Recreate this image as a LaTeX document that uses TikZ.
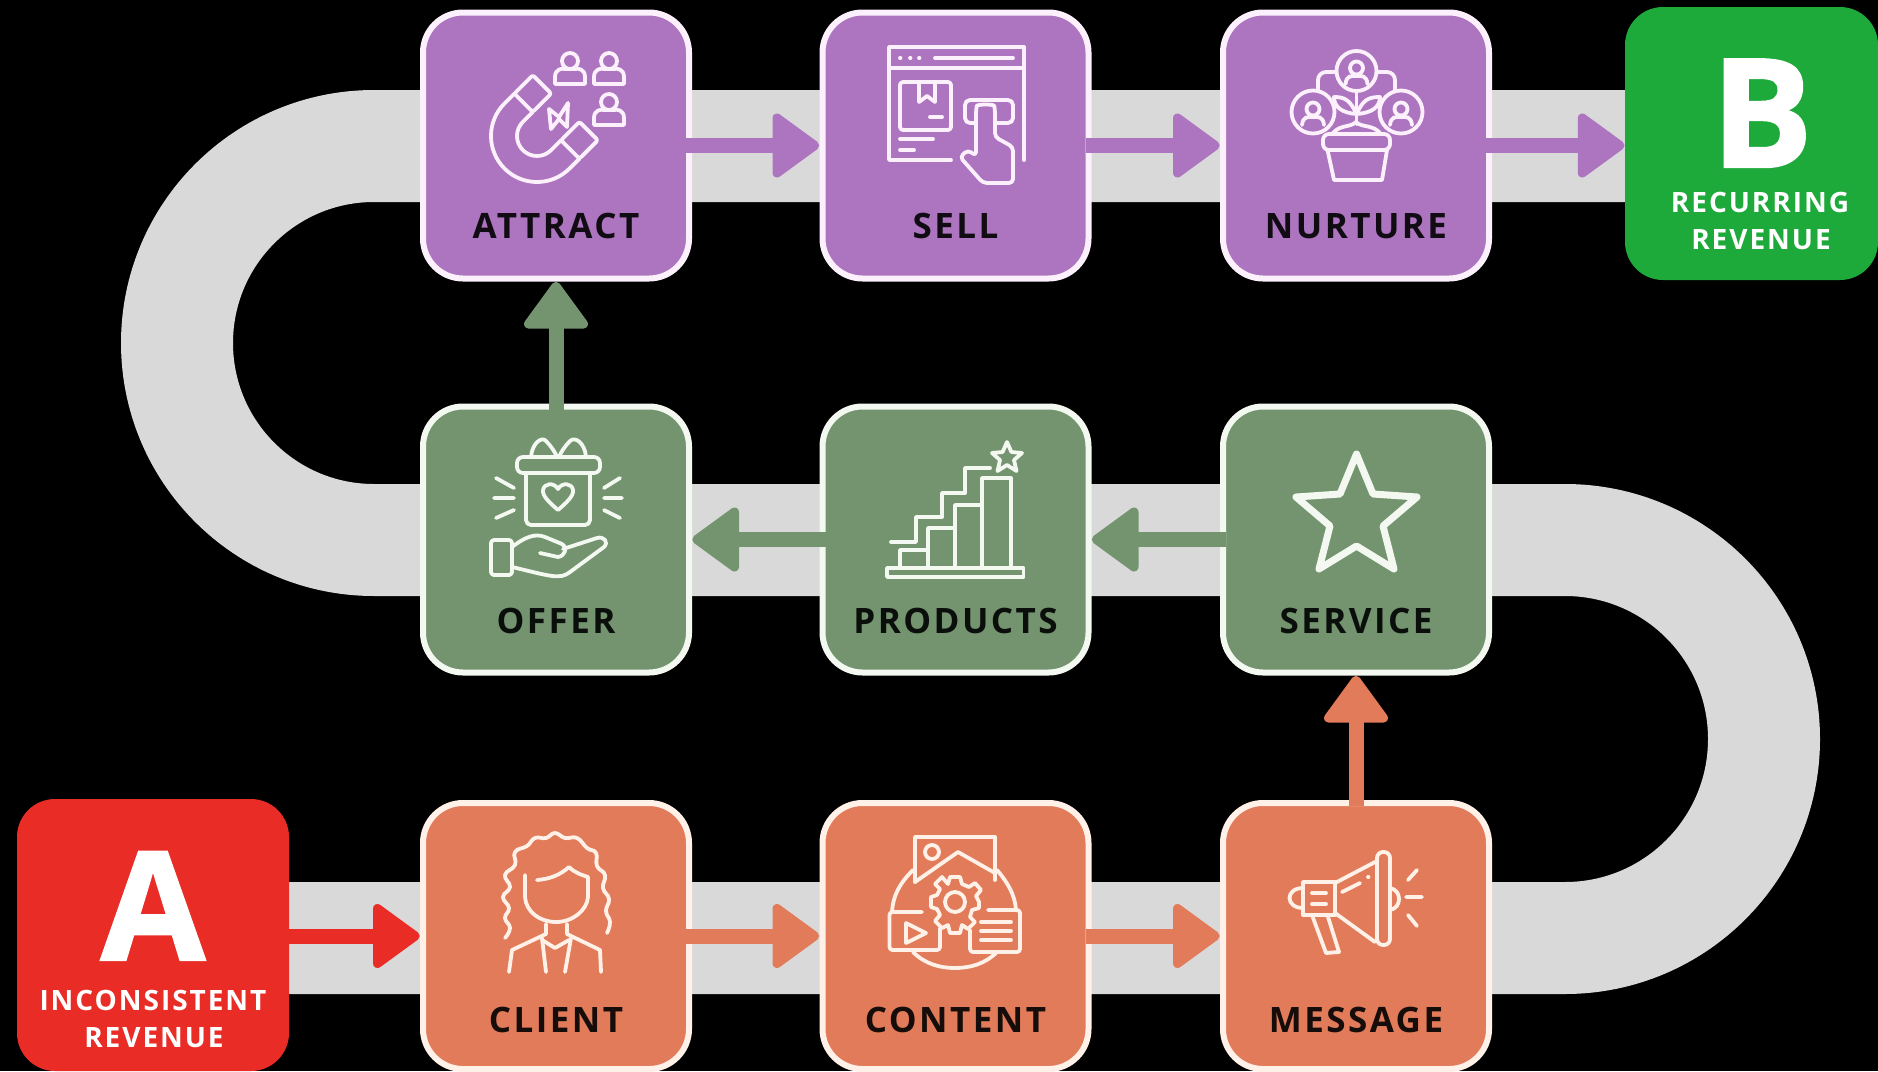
\documentclass[tikz,border=0pt]{standalone}
\usepackage{fontspec}
\setmainfont{Open Sans}
\usetikzlibrary{arrows.meta,calc}
\definecolor{cpurple}{HTML}{AD75BF}
\definecolor{cgreen}{HTML}{73946F}
\definecolor{corange}{HTML}{E17B5A}
\definecolor{cred}{HTML}{E92C26}
\definecolor{cbgreen}{HTML}{1DAA3A}
\definecolor{cband}{HTML}{D9D9D9}
\definecolor{lpurple}{HTML}{FBF0FC}
\definecolor{lgreen}{HTML}{F3F8F0}
\definecolor{lorange}{HTML}{FFF1E8}
\pgfdeclarearrow{
  name=BlockHead,
  cache=false,
  setup code={
    \pgfarrowssettipend{0pt}
    \pgfarrowssetbackend{-47pt}
    \pgfarrowssetlineend{-40pt}
    \pgfarrowssetvisualbackend{-40pt}
    \pgfarrowshullpoint{0pt}{0pt}
    \pgfarrowshullpoint{-47pt}{32pt}
    \pgfarrowshullpoint{-47pt}{-32pt}
  },
  drawing code={
    \pgfsetroundjoin
    \pgfsetlinewidth{9pt}
    \pgfsetfillcolor{pgfstrokecolor}
    \pgfpathmoveto{\pgfqpoint{-4.8pt}{0pt}}
    \pgfpathlineto{\pgfqpoint{-42.5pt}{27.5pt}}
    \pgfpathlineto{\pgfqpoint{-42.5pt}{-27.5pt}}
    \pgfpathclose
    \pgfusepathqfillstroke
  }
}
\tikzset{
  cardbox/.style={draw=#1,rectangle,rounded corners=40pt,line width=6pt,minimum width=266pt,minimum height=266pt,inner sep=0pt},
  pbox/.style={cardbox=lpurple,fill=cpurple},
  gbox/.style={cardbox=lgreen,fill=cgreen},
  obox/.style={cardbox=lorange,fill=corange},
  endbox/.style={rectangle,rounded corners=38pt,inner sep=0pt},
  lab/.style={anchor=base,inner sep=0pt,text=#1,font=\labfont},
  sublab/.style={anchor=base,inner sep=0pt,text=white,font=\subfont,text height=20pt,text depth=0pt},
  bigletter/.style={anchor=base,inner sep=0pt,text=white,font=\bigfont,text height=108pt,text depth=0pt},
  flow/.style={line width=15pt,draw=#1,shorten <=-6pt,-BlockHead},
  ic/.style={draw=#1,line width=3.8pt,line cap=round,line join=round},
  personic/.pic={
    \draw (0,-8) circle (8);
    \draw (-15,15) -- (-15,8) .. controls (-15,0) and (-8,-1) .. (-5,0) -- (5,0) .. controls (8,-1) and (15,0) .. (15,8) -- (15,15) -- cycle;
  },
  facecirc/.pic={
    \draw (0,-5) circle (6.5);
    \draw (-11,11) .. controls (-10,2) and (-5,3) .. (0,3) .. controls (5,3) and (10,2) .. (11,11);
  },
}
\newfontfamily\labfam[LetterSpace=7]{Open Sans}
\newfontfamily\bigfam[BoldFeatures={FakeBold=1.5}]{Open Sans}
\newcommand{\labfont}{\labfam\bfseries\fontsize{35}{35}\selectfont}
\newcommand{\subfont}{\labfam\bfseries\fontsize{28}{28}\selectfont}
\newcommand{\bigfont}{\bigfam\bfseries\fontsize{151}{151}\selectfont}
\begin{document}
\begin{tikzpicture}[x=1pt,y=-1pt]
\useasboundingbox (0,0) rectangle (1878,1071);
\fill[black] (0,0) rectangle (1878,1071);
% winding band
\draw[cband,line width=112pt,line join=round]
  (153,938) -- (1565,938) arc[start angle=90,end angle=-90,radius=199]
  -- (374,540) arc[start angle=90,end angle=270,radius=197] -- (1751,146);
% end boxes
\node[endbox,fill=cred,minimum width=272pt,minimum height=272pt] (a) at (153,935) {};
\node[endbox,fill=cbgreen,minimum width=253pt,minimum height=273pt] (b) at (1751.5,143.5) {};
% cards
\node[pbox] (attract) at (556,145.5) {};
\node[pbox] (sell) at (955.5,145.5) {};
\node[pbox] (nurture) at (1356,145.5) {};
\node[gbox] (offer) at (556,539.5) {};
\node[gbox] (products) at (955.5,539.5) {};
\node[gbox] (service) at (1356,539.5) {};
\node[obox] (client) at (556,936) {};
\node[obox] (content) at (955.5,936) {};
\node[obox] (message) at (1356,936) {};
% arrows
\draw[flow=cred,shorten <=0pt] (client.west -| a.east) -- (client.west);
\draw[flow=corange] (client) -- (content);
\draw[flow=corange] (content) -- (message);
\draw[flow=corange] (message) -- (service);
\draw[flow=cgreen] (service) -- (products);
\draw[flow=cgreen] (products) -- (offer);
\draw[flow=cgreen] (offer) -- (attract);
\draw[flow=cpurple] (attract) -- (sell);
\draw[flow=cpurple] (sell) -- (nurture);
\draw[flow=cpurple] (nurture.east) -- (nurture.east -| b.west);
% labels
\node[lab=black!90!cpurple] (tattract) at (556,238) {ATTRACT};
\node[lab=black!90!cpurple] (tsell) at (955.5,238) {SELL};
\node[lab=black!90!cpurple] (tnurture) at (1356,238) {NURTURE};
\node[lab=black!90!cgreen] (toffer) at (556,633) {OFFER};
\node[lab=black!90!cgreen] (tproducts) at (955.5,633) {PRODUCTS};
\node[lab=black!90!cgreen] (tservice) at (1356,633) {SERVICE};
\node[lab=black!90!corange] (tclient) at (556,1032) {CLIENT};
\node[lab=black!90!corange] (tcontent) at (955.5,1032) {CONTENT};
\node[lab=black!90!corange] (tmessage) at (1356,1032) {MESSAGE};
\node[bigletter] (la) at (153,960) {A};
\node[bigletter] (lb) at (1762,167) {B};
\node[sublab] (sa1) at (153,1010) {INCONSISTENT};
\node[sublab] (sa2) at (154,1047) {REVENUE};
\node[sublab] (sb1) at (1760,212) {RECURRING};
\node[sublab] (sb2) at (1761,249) {REVENUE};
% --- icon: attract
\begin{scope}[ic=lpurple]
  \begin{scope}[shift={(537,136)},rotate=45]
    \draw (14,46) -- (0,46) arc[start angle=90,end angle=270,radius=46] -- (14,-46);
    \draw (14,20) -- (0,20) arc[start angle=90,end angle=270,radius=20] -- (14,-20);
    \draw[rounded corners=2pt] (14,-46) rectangle (40,-20);
    \draw[rounded corners=2pt] (14,20) rectangle (40,46);
  \end{scope}
  \draw (549,109) -- (559,117) -- (568,103) -- (567,127) -- (559,119) -- (551,129) -- cycle;
  \path (570,69) pic {personic};
  \path (609,69) pic {personic};
  \path (609,110) pic {personic};
\end{scope}
% --- icon: sell
\begin{scope}[ic=lpurple]
  \draw (951,160) -- (889,160) -- (889,47) -- (1024,47) -- (1024,160);
  \draw (889,68) -- (1024,68);
  \draw (900,58) -- (900.5,58) (910,58) -- (910.5,58) (919,58) -- (919.5,58);
  \draw (935,58) -- (1013,58);
  \draw[rounded corners=3pt] (900,82) rectangle (951,130);
  \draw (919,82) -- (919,102) -- (927,96) -- (935,102) -- (935,82);
  \draw (930,117) -- (942,117);
  \draw (900,139) -- (933,139) (900,150) -- (914,150);
  \draw[rounded corners=5pt] (976,123) -- (965,123) -- (965,100) -- (1013,100) -- (1013,123) -- (996,123);
  \draw[rounded corners=4pt] (976,143) -- (976,110) .. controls (977,104) and (994,104) .. (995,110) -- (995,137) -- (1013,147) -- (1013,183) -- (983,183) -- (960,157) -- (968,150) -- (976,156) -- (976,143);
\end{scope}
% --- icon: nurture
\begin{scope}[ic=lpurple]
  \draw (1356.5,71) circle (20);
  \draw (1313,112) circle (21.5);
  \draw (1401,112) circle (21.5);
  \path (1356.5,73) pic {facecirc};
  \path (1313,114) pic {facecirc};
  \path (1401,114) pic {facecirc};
  \draw[rounded corners=8pt] (1336,72) -- (1318,72) -- (1318,91);
  \draw[rounded corners=8pt] (1377,72) -- (1395,72) -- (1395,91);
  \draw (1356.5,91) -- (1356.5,124);
  \draw (1356.5,114) .. controls (1350,100) and (1345,97) .. (1334,97) .. controls (1334,107) and (1342,113) .. (1356.5,114);
  \draw (1356.5,114) .. controls (1363,100) and (1368,97) .. (1380,97) .. controls (1380,107) and (1372,113) .. (1356.5,114);
  \draw (1332,134) .. controls (1340,124) and (1350,128) .. (1356,122) .. controls (1362,128) and (1373,124) .. (1381,134);
  \draw[rounded corners=6pt] (1323,134) rectangle (1390,150);
  \draw (1327.5,150) -- (1334,180) -- (1382,180) -- (1387,150);
\end{scope}
% --- icon: offer
\begin{scope}[ic=lgreen]
  \draw[rounded corners=6pt] (517,457) rectangle (600,473);
  \draw[rounded corners=5pt] (526,473) -- (526,525) -- (590,525) -- (590,473);
  \draw (531,457) .. controls (532,443) and (542,436) .. (546,441) .. controls (551,446) and (555,452) .. (557,457);
  \draw (586,457) .. controls (585,443) and (575,436) .. (570,441) .. controls (565,446) and (561,452) .. (559,457);
  \draw (558,510) .. controls (550,503) and (542,496) .. (543,490) .. controls (544,483) and (554,482) .. (558,489) .. controls (562,482) and (572,483) .. (573,490) .. controls (574,496) and (566,503) .. (558,510) -- cycle;
  \draw (496,478) -- (514,488) (494,498) -- (514,498) (496,518) -- (514,510);
  \draw (620,478) -- (604,488) (622,498) -- (604,498) (620,518) -- (604,510);
  \draw[rounded corners=3pt] (491,540) rectangle (512,575);
  \draw (512,547) .. controls (525,537) and (535,533) .. (545,537) -- (562,544) .. controls (568,548) and (565,556) .. (558,557) -- (540,553);
  \draw (563,549) -- (597,538) .. controls (604,536) and (609,542) .. (604,547) -- (570,572) .. controls (560,580) and (550,576) .. (512,567);
\end{scope}
% --- icon: products
\begin{scope}[ic=lgreen]
  \draw (887,568) rectangle (1023.5,577);
  \draw (900,568) -- (900,550) -- (928,550);
  \draw (928,568) -- (928,528) -- (955,528);
  \draw (955,568) -- (955,505) -- (982,505);
  \draw (982,568) -- (982,478) -- (1011,478) -- (1011,568);
  \draw (891,542) -- (916,542) -- (916,517) -- (942,517) -- (942,493) -- (965,493) -- (965,468) -- (990,468);
  \draw (1007,442) -- (1011.4,452) -- (1022,453) -- (1014,460) -- (1016.5,471) -- (1007,465) -- (997.5,471) -- (1000,460) -- (992,453) -- (1002.6,452) -- cycle;
\end{scope}
% --- icon: service
\draw[ic=lgreen,line width=7pt]
  (1356.5,454) -- (1373,494) -- (1417,497) -- (1383,526) -- (1394,569) -- (1356.5,546) -- (1319,569) -- (1330,526) -- (1296,497) -- (1340,494) -- cycle;
% --- icon: client
\begin{scope}[ic=lorange]
  \draw plot[smooth,tension=.8] coordinates {(505,938) (510,928) (505,918) (509,908) (503,897) (510,887) (505,875) (515,865) (515,852) (527,846) (535,838) (546,838) (555,833) (565,838) (577,838) (587,848) (596,853) (597,866) (605,875) (603,888) (609,899) (606,911) (610,922) (607,933)};
  \draw (537,880) .. controls (550,879) and (560,875) .. (569,867) .. controls (575,873) and (582,875) .. (588,877);
  \draw (525,875) -- (525,897) .. controls (526,912) and (540,922) .. (556,922) .. controls (573,922) and (587,910) .. (588,897) -- (588,877);
  \draw (546,924) -- (546,934) -- (512,950) -- (509,972);
  \draw (567,924) -- (567,934) -- (600,950) -- (601,972);
  \draw (542,938) -- (546,972) (571,938) -- (565,972);
  \draw (542,940) -- (555,948) -- (569,940);
\end{scope}
% --- icon: content
\begin{scope}[ic=lorange]
  \draw (915,882) -- (915,837) -- (995,837) -- (995,880);
  \draw (915,882) -- (958,852) -- (995,873);
  \draw (932,852) circle (7);
  \draw (913,870) .. controls (900,883) and (893,895) .. (892,912);
  \draw (997,870) .. controls (1008,883) and (1015,895) .. (1016,910);
  \draw (913,952) .. controls (925,964) and (940,968) .. (955,968) .. controls (970,968) and (985,964) .. (997,952);
  \draw (955,902) circle (10);
  \draw (950,877) -- (960,877) -- (962,884) -- (969,887) -- (975,883) -- (981,890) -- (976,896) -- (979,902) -- (979,908) -- (972,910) -- (970,917) -- (975,922) -- (968,929) -- (962,925) -- (960,933) -- (950,933) -- (948,925) -- (942,928) -- (935,921) -- (940,915) -- (937,909) -- (931,907) -- (931,897) -- (937,895) -- (940,889) -- (935,884) -- (942,877) -- (948,884) -- cycle;
  \draw[rounded corners=3pt] (922,912) -- (889.5,912) -- (889.5,950) -- (940,950) -- (940,928);
  \draw (906,923) -- (906,943) -- (926,933) -- cycle;
  \draw[rounded corners=3pt] (970,930) -- (970,952) -- (1020,952) -- (1020,910) -- (988,910);
  \draw (981,922) -- (1011,922) (981,931) -- (1011,931) (981,940) -- (1011,940);
\end{scope}
% --- icon: message
\begin{scope}[ic=lorange]
  \draw[rounded corners=6pt] (1377,852) rectangle (1390,945);
  \draw (1377,861) -- (1335,883) -- (1335,913) -- (1375,942);
  \draw (1303,882) rectangle (1335,915);
  \draw (1303,888) .. controls (1285,888) and (1285,908) .. (1303,908);
  \draw (1390,888) .. controls (1402,890) and (1402,908) .. (1390,910);
  \draw (1312,893) -- (1326,893) (1312,904) -- (1326,904);
  \draw (1342,892) -- (1360,883);
  \draw (1368,877) -- (1368.5,877);
  \draw (1312,915) -- (1326,953) -- (1339,952) -- (1328,917);
  \draw (1408,880) -- (1417,870) (1406,897) -- (1422,897) (1408,915) -- (1417,926);
\end{scope}
\end{tikzpicture}
\end{document}
